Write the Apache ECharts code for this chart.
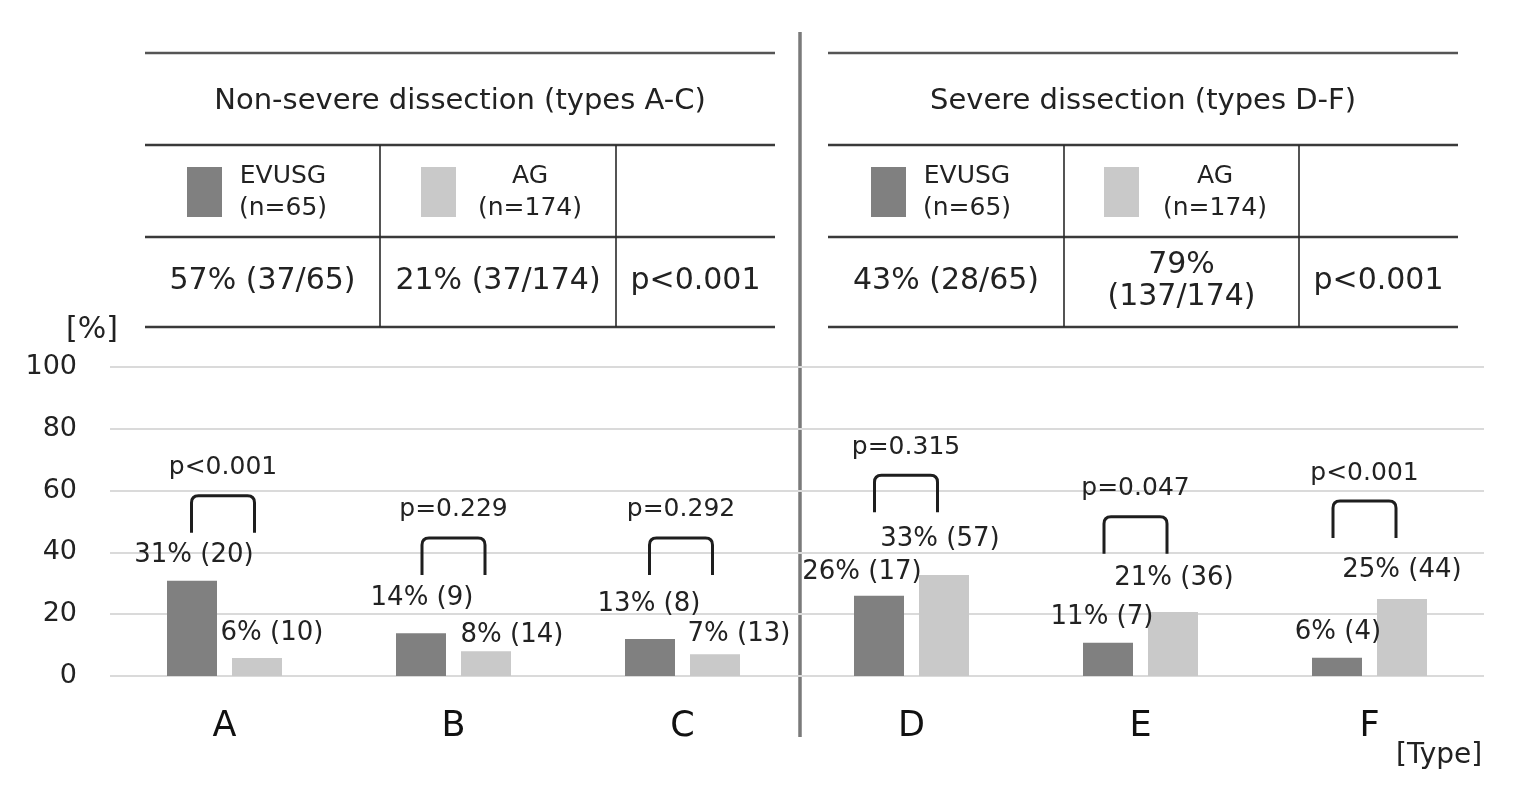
<!DOCTYPE html>
<html><head><meta charset="utf-8">
<script src="https://cdn.jsdelivr.net/npm/echarts@6/dist/echarts.min.js"></script>
<style>html,body{margin:0;padding:0;background:#fff}#chart{width:1540px;height:792px}</style>
</head><body><div id="chart"></div>
<script>
// ---------- data ----------
const categories = ['A', 'B', 'C', 'D', 'E', 'F'];
const seriesNames = ['EVUSG', 'AG'];
const groupSizes = [65, 174];
const evusgValues = [30.8, 13.8, 12.0, 26.0, 10.8, 5.9];
const agValues = [5.8, 8.0, 7.0, 32.7, 20.7, 24.9];
const evusgPercentLabels = [31, 14, 13, 26, 11, 6];
const evusgCounts = [20, 9, 8, 17, 7, 4];
const agPercentLabels = [6, 8, 7, 33, 21, 25];
const agCounts = [10, 14, 13, 57, 36, 44];
const pValues = ['p<0.001', 'p=0.229', 'p=0.292', 'p=0.315', 'p=0.047', 'p<0.001'];
const bracketLevels = [58.3, 44.7, 44.7, 65.0, 51.5, 56.6];
const yTicks = [0, 20, 40, 60, 80, 100];
const panelTitles = ['Non-severe dissection (types A-C)', 'Severe dissection (types D-F)'];
const overallEvusg = ['57% (37/65)', '43% (28/65)'];
const overallAg = ['21% (37/174)', '79%\n(137/174)'];
const overallP = ['p<0.001', 'p<0.001'];

// ---------- layout (not data) ----------
const FONT = 'DejaVu Sans';
const TXT = '#222222';
const evusgLabelOffsets = [[2, -26], [1, -35], [-1, -35], [-17, -23], [-6, -25], [1, -26]];
const agLabelOffsets = [[15, -25], [26, -16], [24, -20], [-4, -36], [1, -34], [0, -29]];
const bracketShift = [-1.5, 0, -1.5, -5.5, -5, -5];
const tableX0 = [145, 828], tableX1 = [775, 1458];
const rowY = [53, 145, 237, 327];
const colX = [[380, 616], [1064, 1299]];

const chart = echarts.init(document.getElementById('chart'), null, {renderer: 'canvas'});

const graphic = [];
for (let t = 0; t < 2; t++) {
  rowY.forEach((y, k) => {
    graphic.push({type: 'line', shape: {x1: tableX0[t], y1: y, x2: tableX1[t], y2: y},
      style: {stroke: k === 0 ? '#555555' : '#3a3a3a', lineWidth: 2.5}, silent: true});
  });
  colX[t].forEach(x => {
    graphic.push({type: 'line', shape: {x1: x, y1: rowY[1], x2: x, y2: rowY[3]},
      style: {stroke: '#2a2a2a', lineWidth: 1.6}, silent: true});
  });
  graphic.push({type: 'text', x: (tableX0[t] + tableX1[t]) / 2, y: (rowY[0] + rowY[1]) / 2 + 2,
    style: {text: panelTitles[t], align: 'center', verticalAlign: 'middle', fontSize: 29, fontFamily: FONT, fill: TXT}});
  const cells = [overallEvusg[t], overallAg[t], overallP[t]];
  const bounds = [tableX0[t], colX[t][0], colX[t][1], tableX1[t]];
  cells.forEach((txt, c) => {
    graphic.push({type: 'text', x: (bounds[c] + bounds[c + 1]) / 2, y: 281,
      style: {text: txt, align: 'center', verticalAlign: 'middle', fontSize: 30, lineHeight: 32, fontFamily: FONT, fill: TXT}});
  });
}
graphic.push({type: 'line', shape: {x1: 800, y1: 32, x2: 800, y2: 737},
  style: {stroke: '#7a7a7a', lineWidth: 3.5}, silent: true});

function makeLegend(idx, left, textWidth) {
  return {
    data: [seriesNames[idx]], left: left, top: 160, padding: 0, orient: 'horizontal',
    icon: 'rect', itemWidth: 35, itemHeight: 50, selectedMode: false,
    formatter: name => '{c|' + name + '}\n{c|(n=' + groupSizes[idx] + ')}',
    textStyle: {fontSize: 25, fontFamily: FONT, color: TXT, lineHeight: 32,
      rich: {c: {width: textWidth, align: 'center', fontSize: 25, fontFamily: FONT, color: TXT, lineHeight: 32}}}
  };
}

const option = {
  backgroundColor: '#ffffff',
  animation: false,
  textStyle: {fontFamily: FONT},
  graphic: graphic,
  legend: [makeLegend(0, 187, 112), makeLegend(1, 421, 138), makeLegend(0, 871, 112), makeLegend(1, 1104, 142)],
  grid: {left: 110, right: 56, top: 367, bottom: 116, containLabel: false},
  xAxis: {
    type: 'category', data: categories,
    axisLine: {show: false}, axisTick: {show: false},
    axisLabel: {fontSize: 35, fontFamily: FONT, color: '#111111', margin: 33},
    name: '[Type]', nameLocation: 'end', nameGap: -88,
    nameTextStyle: {fontSize: 28, fontFamily: FONT, color: TXT, align: 'left', verticalAlign: 'top', padding: [66, 0, 0, 0]}
  },
  yAxis: {
    type: 'value', min: yTicks[0], max: yTicks[yTicks.length - 1], interval: yTicks[1] - yTicks[0],
    axisLine: {show: false}, axisTick: {show: false},
    axisLabel: {fontSize: 27, fontFamily: FONT, color: TXT, margin: 33},
    splitLine: {lineStyle: {color: '#dadada', width: 2}},
    name: '[%]', nameLocation: 'end', nameGap: 22,
    nameTextStyle: {fontSize: 30, fontFamily: FONT, color: TXT, padding: [0, 36, 0, 0]}
  },
  series: [
    {
      name: seriesNames[0], type: 'bar', barWidth: 50, barGap: '30%',
      itemStyle: {color: '#808080'},
      data: evusgValues.map((v, i) => ({value: v, label: {offset: evusgLabelOffsets[i]}})),
      label: {show: true, position: 'top', distance: 0, verticalAlign: 'middle',
        fontSize: 26, fontFamily: FONT, color: TXT,
        formatter: p => evusgPercentLabels[p.dataIndex] + '% (' + evusgCounts[p.dataIndex] + ')'}
    },
    {
      name: seriesNames[1], type: 'bar', barWidth: 50, barGap: '30%',
      itemStyle: {color: '#c9c9c9'},
      data: agValues.map((v, i) => ({value: v, label: {offset: agLabelOffsets[i]}})),
      label: {show: true, position: 'top', distance: 0, verticalAlign: 'middle',
        fontSize: 26, fontFamily: FONT, color: TXT,
        formatter: p => agPercentLabels[p.dataIndex] + '% (' + agCounts[p.dataIndex] + ')'}
    },
    {
      name: 'p-values', type: 'custom', silent: true, z: 5,
      data: bracketLevels.map((v, i) => [i, v]),
      encode: {x: 0, y: 1},
      renderItem: (params, api) => {
        const i = api.value(0);
        const pt = api.coord([i, api.value(1)]);
        const cx = pt[0] + bracketShift[i], top = pt[1];
        const hw = 31.5, h = 37, r = 7;
        const d = 'M' + (cx - hw) + ',' + (top + h) + ' L' + (cx - hw) + ',' + (top + r) +
          ' Q' + (cx - hw) + ',' + top + ' ' + (cx - hw + r) + ',' + top +
          ' L' + (cx + hw - r) + ',' + top +
          ' Q' + (cx + hw) + ',' + top + ' ' + (cx + hw) + ',' + (top + r) +
          ' L' + (cx + hw) + ',' + (top + h);
        return {type: 'group', children: [
          {type: 'path', shape: {pathData: d}, style: {stroke: '#1e1e1e', lineWidth: 3, fill: 'none'}},
          {type: 'text', style: {text: pValues[i], x: cx, y: top - 28, align: 'center', verticalAlign: 'middle',
            fontSize: 25, fontFamily: FONT, fill: TXT}}
        ]};
      }
    }
  ]
};
chart.setOption(option);
</script>
</body></html>
